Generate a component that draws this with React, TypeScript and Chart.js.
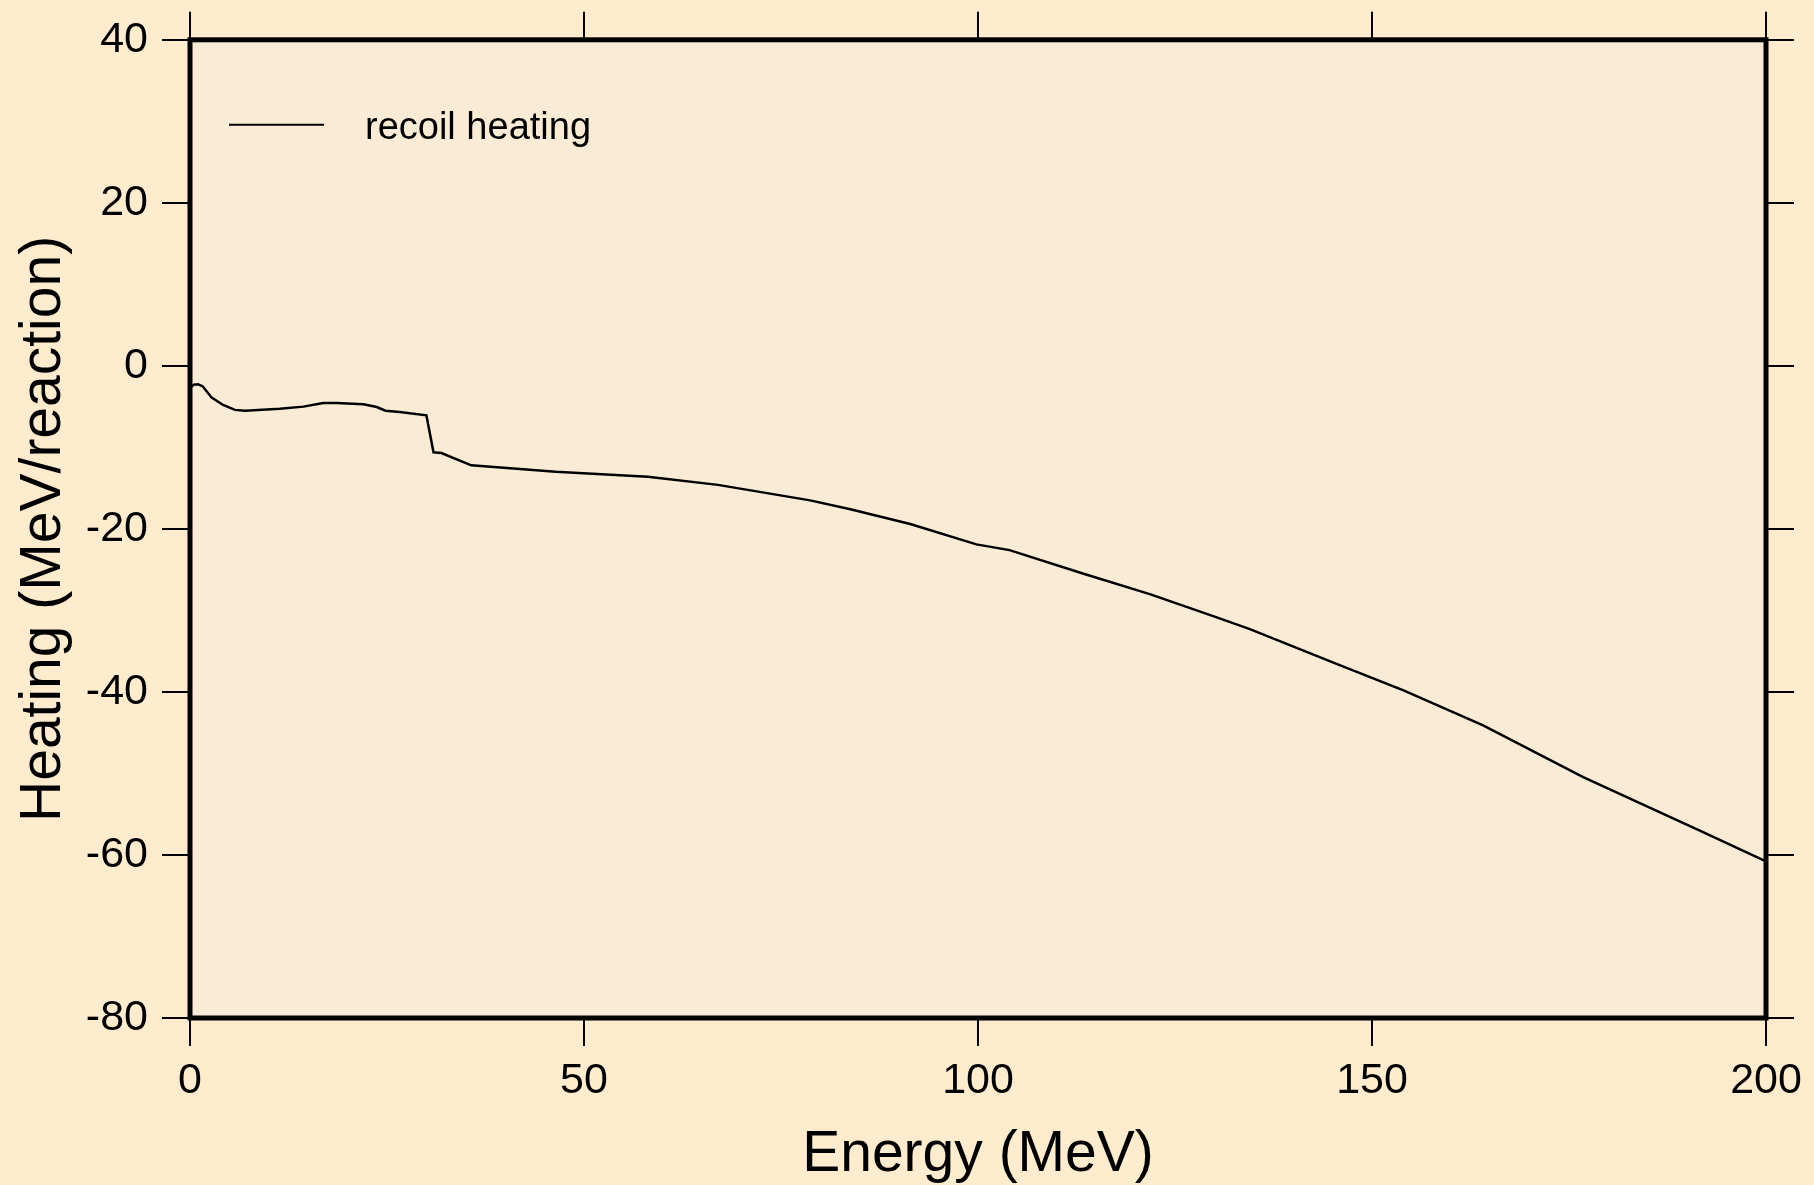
import React, { useEffect, useRef } from "react";
import { Chart, registerables } from "chart.js";

Chart.register(...registerables);

const energyMeV: number[] = [
  0, 0.5, 1.0, 1.6, 2.75, 4.2, 5.7, 7.0, 11.4, 14.4, 16.9, 18.6, 22.0, 23.7, 24.8,
  26.6, 30.0, 30.9, 31.9, 35.7, 46.4, 58.1, 67.0, 78.7, 83.8, 91.4, 99.8, 104.0,
  113.4, 121.8, 130.3, 134.5, 145.1, 154.0, 164.1, 176.8, 191.6, 200,
];
const recoilHeating: number[] = [
  -2.7, -2.3, -2.25, -2.5, -3.9, -4.8, -5.4, -5.5, -5.25, -5.0, -4.56, -4.56, -4.7,
  -5.05, -5.5, -5.66, -6.06, -10.6, -10.7, -12.2, -13.0, -13.6, -14.6, -16.5, -17.6,
  -19.4, -21.9, -22.6, -25.5, -28.0, -30.85, -32.3, -36.4, -39.8, -44.1, -50.45,
  -57.0, -60.8,
];
const seriesLabel = "recoil heating";
const xTitle = "Energy (MeV)";
const yTitle = "Heating (MeV/reaction)";
const xTicksRange = { min: 0, max: 200, step: 50 };
const yTicksRange = { min: -80, max: 40, step: 20 };

const W = 1814;
const H = 1185;
const FONT = "'Liberation Sans', Arial, Helvetica, sans-serif";

export default function App() {
  const ref = useRef<HTMLCanvasElement | null>(null);

  useEffect(() => {
    if (!ref.current) return;
    const plotBg = {
      id: "plotBg",
      beforeDatasetsDraw(chart: any) {
        const { ctx, chartArea: a } = chart;
        ctx.save();
        ctx.fillStyle = "#FAEBD7";
        ctx.fillRect(a.left, a.top, a.right - a.left, a.bottom - a.top);
        ctx.restore();
      },
    };
    const frameAndLegend = {
      id: "frameAndLegend",
      afterDraw(chart: any) {
        const { ctx, chartArea: a } = chart;
        ctx.save();
        ctx.strokeStyle = "#000";
        ctx.lineWidth = 5;
        ctx.strokeRect(a.left, a.top, a.right - a.left, a.bottom - a.top);
        // legend
        ctx.lineWidth = 2;
        ctx.beginPath();
        ctx.moveTo(a.left + 39, a.top + 85);
        ctx.lineTo(a.left + 134, a.top + 85);
        ctx.stroke();
        ctx.fillStyle = "#000";
        ctx.font = `38px ${FONT}`;
        ctx.textBaseline = "alphabetic";
        ctx.textAlign = "left";
        ctx.fillText(seriesLabel, a.left + 175, a.top + 99);
        ctx.restore();
      },
    };

    const tickGrid = {
      display: true,
      drawOnChartArea: false,
      drawTicks: true,
      tickLength: 28,
      color: "#000",
      lineWidth: 2,
    };

    const chart = new Chart(ref.current, {
      type: "line",
      data: {
        datasets: [
          {
            label: seriesLabel,
            data: energyMeV.map((x, i) => ({ x, y: recoilHeating[i] })),
            borderColor: "#000",
            borderWidth: 2.5,
            pointRadius: 0,
            tension: 0,
            fill: false,
          },
        ],
      },
      options: {
        animation: false,
        responsive: false,
        devicePixelRatio: 1,
        layout: { padding: 0 },
        plugins: {
          legend: { display: false },
          tooltip: { enabled: false },
        },
        scales: {
          x: {
            type: "linear",
            position: "bottom",
            min: xTicksRange.min,
            max: xTicksRange.max,
            ticks: {
              stepSize: xTicksRange.step,
              color: "#000",
              font: { family: FONT, size: 43 },
              padding: 9,
              maxRotation: 0,
            },
            grid: tickGrid,
            border: { display: false },
            title: {
              display: true,
              text: xTitle,
              color: "#000",
              font: { family: FONT, size: 57 },
              padding: { top: 0, bottom: -4 },
            },
            afterFit(scale: any) {
              scale.height = 167;
            },
          },
          x2: {
            type: "linear",
            position: "top",
            min: xTicksRange.min,
            max: xTicksRange.max,
            ticks: { stepSize: xTicksRange.step, display: false },
            grid: tickGrid,
            border: { display: false },
            afterFit(scale: any) {
              scale.height = 38;
            },
          },
          y: {
            type: "linear",
            position: "left",
            min: yTicksRange.min,
            max: yTicksRange.max,
            ticks: {
              stepSize: yTicksRange.step,
              color: "#000",
              font: { family: FONT, size: 43 },
              padding: 14,
            },
            grid: tickGrid,
            border: { display: false },
            title: {
              display: true,
              text: yTitle,
              color: "#000",
              font: { family: FONT, size: 57 },
              padding: { top: 10, bottom: 0 },
            },
            afterFit(scale: any) {
              scale.width = 190;
            },
          },
          y2: {
            type: "linear",
            position: "right",
            min: yTicksRange.min,
            max: yTicksRange.max,
            ticks: { stepSize: yTicksRange.step, display: false },
            grid: tickGrid,
            border: { display: false },
            afterFit(scale: any) {
              scale.width = 48;
            },
          },
        },
      },
      plugins: [plotBg, frameAndLegend],
    } as any);

    return () => chart.destroy();
  }, []);

  return (
    <div
      style={{
        position: "absolute",
        left: 0,
        top: 0,
        width: W,
        height: H,
        background: "#FFEBCD",
      }}
    >
      <canvas ref={ref} width={W} height={H} style={{ display: "block" }} />
    </div>
  );
}
